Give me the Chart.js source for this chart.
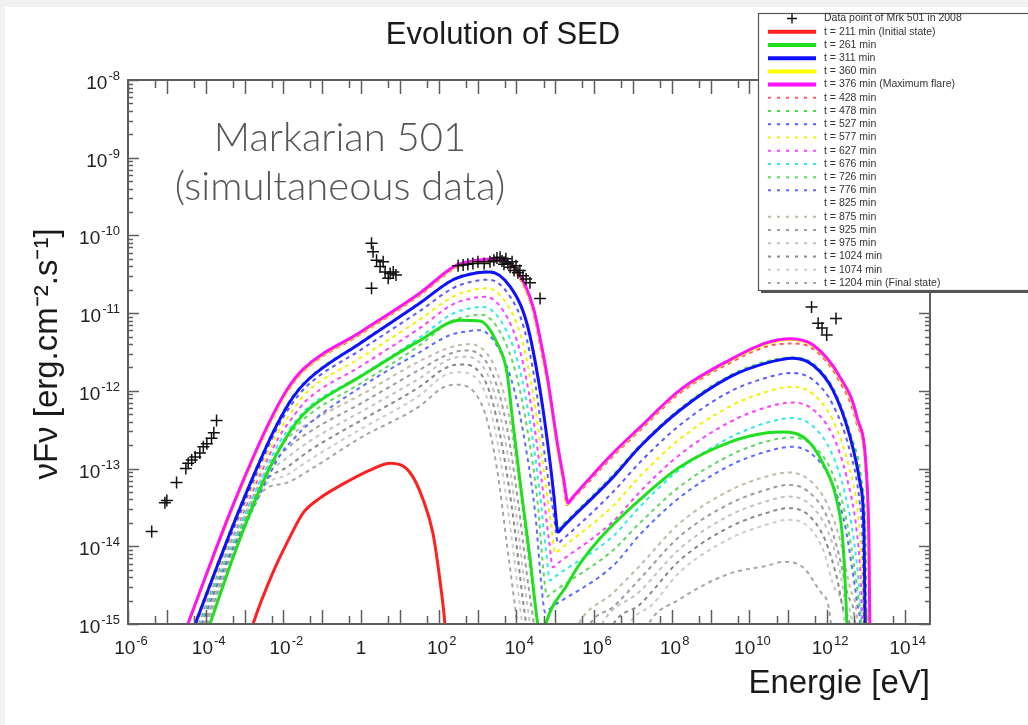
<!DOCTYPE html>
<html><head><meta charset="utf-8">
<script src="https://cdn.jsdelivr.net/npm/chart.js@4.4.1/dist/chart.umd.min.js"></script>
<style>html,body{margin:0;padding:0;background:#f1f1f3;}canvas{display:block;}</style>
</head><body>
<canvas id="c" width="1028" height="725"></canvas>
<script>
// All values are read off the picture, in log10 units:
// [ log10(E / eV), log10(νFν / erg cm^-2 s^-1) ]

const xTickDecades = [-6,-4,-2,0,2,4,6,8,10,12,14];
const xTickLabels  = [['10','-6'],['10','-4'],['10','-2'],['1',''],['10','2'],['10','4'],['10','6'],['10','8'],['10','10'],['10','12'],['10','14']];
const yTickDecades = [-15,-14,-13,-12,-11,-10,-9,-8];
const yTickLabels  = [['10','-15'],['10','-14'],['10','-13'],['10','-12'],['10','-11'],['10','-10'],['10','-9'],['10','-8']];

// Observed Mrk 501 data (2008)
const mrk501Points = [
  [-5.39,-13.81],[-5.05,-13.44],[-5.0,-13.41],[-4.75,-13.18],[-4.51,-13.0],[-4.45,-12.93],[-4.36,-12.89],
  [-4.27,-12.85],[-4.15,-12.8],[-4.06,-12.72],[-3.97,-12.68],[-3.85,-12.61],[-3.79,-12.54],[-3.72,-12.38],
  [0.27,-10.1],[0.31,-10.21],[0.4,-10.32],[0.49,-10.4],[0.57,-10.34],[0.62,-10.47],[0.7,-10.55],
  [0.75,-10.49],[0.83,-10.47],[0.9,-10.51],[0.27,-10.68],
  [2.5,-10.39],[2.63,-10.38],[2.75,-10.37],[2.88,-10.36],[3.01,-10.34],[3.17,-10.36],[3.32,-10.34],
  [3.42,-10.32],[3.5,-10.29],[3.58,-10.28],[3.63,-10.33],[3.68,-10.37],[3.73,-10.3],[3.78,-10.36],
  [3.84,-10.41],[3.89,-10.34],[3.94,-10.45],[3.99,-10.39],[4.04,-10.48],[4.09,-10.45],[4.17,-10.52],
  [4.25,-10.56],[4.35,-10.61],[4.61,-10.81],
  [11.6,-10.92],[11.77,-11.13],[11.87,-11.19],[11.99,-11.28],[12.23,-11.07]
];

const sed211 = [[-2.95,-15.3],[-2.78,-15],[-2.27,-14.34],[-1.8,-13.85],[-1.49,-13.57],[-1.06,-13.38],[-0.54,-13.22],[0.23,-13.02],[0.75,-12.93],[1.26,-13.05],[1.6,-13.4],[1.85,-13.83],[2.03,-14.43],[2.16,-15],[2.2,-15.3]];
const sed261 = [[-4.1,-15.3],[-3.89,-15],[-3.3,-14.15],[-2.8,-13.5],[-2.42,-13.06],[-1.95,-12.62],[-1.65,-12.4],[-1.31,-12.22],[-0.03,-11.82],[1.52,-11.35],[2.55,-11.09],[3.06,-11.1],[3.5,-11.38],[3.76,-11.77],[3.91,-12.41],[4.09,-13.15],[4.35,-14.15],[4.55,-15],[4.66,-15.25],[4.76,-15],[5.3,-14.5],[5.64,-14.22],[6.15,-13.9],[7.18,-13.4],[8.21,-12.98],[9.5,-12.66],[10.45,-12.54],[10.86,-12.53],[11.48,-12.63],[11.89,-12.93],[12.25,-13.41],[12.41,-13.96],[12.51,-15],[12.53,-15.3]];
const sed311 = [[-4.5,-15.3],[-4.27,-15],[-3.7,-14.25],[-3.15,-13.55],[-2.6,-12.9],[-2.2,-12.47],[-1.75,-12.08],[-1.37,-11.86],[0,-11.38],[1.52,-10.87],[2.37,-10.57],[3.0,-10.48],[3.32,-10.47],[3.84,-10.66],[4.27,-11.13],[4.61,-11.99],[4.87,-12.93],[4.97,-13.37],[5.07,-13.82],[5.18,-13.76],[6.49,-13.11],[7.18,-12.72],[8.21,-12.25],[9.5,-11.82],[10.45,-11.64],[11.12,-11.58],[11.64,-11.67],[12.15,-11.99],[12.59,-12.59],[12.85,-13.19],[12.95,-13.8],[12.98,-15],[13.0,-15.3]];
const sed360 = [[-4.69,-15.3],[-4.45,-15],[-3.89,-14.26],[-3.31,-13.51],[-2.79,-12.89],[-2.33,-12.39],[-1.89,-11.99],[-1.48,-11.73],[0,-11.25],[1.52,-10.75],[2.47,-10.39],[3.0,-10.33],[3.5,-10.31],[4.01,-10.47],[4.42,-10.93],[4.67,-11.51],[4.8,-11.87],[5.06,-12.73],[5.21,-13.15],[5.32,-13.45],[5.44,-13.38],[6.49,-12.81],[7.18,-12.48],[8.21,-12.0],[9.5,-11.61],[10.45,-11.39],[11.04,-11.34],[11.64,-11.42],[12.32,-11.83],[12.76,-12.35],[13.02,-13.2],[13.07,-14.01],[13.09,-15],[13.11,-15.3]];
const sed376 = [[-4.7,-15.3],[-4.46,-15],[-3.9,-14.25],[-3.32,-13.5],[-2.8,-12.88],[-2.34,-12.38],[-1.9,-11.98],[-1.49,-11.72],[0,-11.24],[1.52,-10.74],[2.47,-10.38],[3.0,-10.32],[3.5,-10.3],[4.02,-10.46],[4.43,-10.92],[4.68,-11.5],[4.81,-11.86],[5.07,-12.72],[5.22,-13.14],[5.33,-13.44],[5.45,-13.37],[6.49,-12.8],[7.18,-12.47],[8.21,-11.99],[9.5,-11.6],[10.45,-11.38],[11.04,-11.33],[11.64,-11.41],[12.33,-11.82],[12.77,-12.34],[13.03,-13.19],[13.08,-14],[13.1,-15],[13.12,-15.3]];
const sed428 = [[-4.69,-15.3],[-4.45,-15],[-3.89,-14.26],[-3.31,-13.52],[-2.79,-12.9],[-2.33,-12.41],[-1.89,-12.01],[-1.48,-11.75],[0,-11.27],[1.52,-10.77],[2.47,-10.41],[3.0,-10.35],[3.48,-10.33],[4.0,-10.49],[4.41,-10.95],[4.66,-11.55],[4.8,-11.9],[5.06,-12.76],[5.2,-13.17],[5.3,-13.47],[5.42,-13.41],[6.49,-12.84],[7.18,-12.51],[8.21,-12.03],[9.5,-11.64],[10.45,-11.43],[11.04,-11.39],[11.64,-11.46],[12.31,-11.87],[12.75,-12.4],[13.02,-13.24],[13.07,-14.05],[13.09,-15],[13.11,-15.3]];
const sed478 = [[-4.52,-15.3],[-4.29,-15],[-3.72,-14.25],[-3.17,-13.55],[-2.62,-12.9],[-2.21,-12.46],[-1.76,-12.07],[-1.38,-11.85],[0,-11.37],[1.52,-10.86],[2.37,-10.56],[3.0,-10.47],[3.3,-10.46],[3.82,-10.65],[4.26,-11.12],[4.6,-11.97],[4.86,-12.9],[4.97,-13.33],[5.08,-13.77],[5.19,-13.72],[6.49,-13.08],[7.18,-12.7],[8.21,-12.23],[9.5,-11.8],[10.45,-11.62],[11.12,-11.57],[11.64,-11.65],[12.17,-11.98],[12.62,-12.58],[12.9,-13.2],[12.99,-13.85],[13.02,-15],[13.04,-15.3]];
const sed527 = [[-4.45,-15.3],[-4.25,-15],[-3.65,-14.22],[-3.12,-13.58],[-2.6,-12.96],[-2.18,-12.5],[-1.75,-12.15],[-1.4,-11.94],[0,-11.47],[1.52,-10.97],[2.4,-10.67],[3.0,-10.58],[3.3,-10.57],[3.8,-10.76],[4.2,-11.2],[4.5,-11.95],[4.75,-12.9],[4.97,-13.62],[5.07,-13.96],[5.17,-13.92],[6.49,-13.3],[7.18,-12.92],[8.21,-12.44],[9.5,-12.01],[10.45,-11.83],[11.1,-11.77],[11.64,-11.86],[12.15,-12.18],[12.59,-12.78],[12.83,-13.4],[12.92,-14.0],[12.96,-15],[12.98,-15.3]];
const sed577 = [[-4.42,-15.3],[-4.22,-15],[-3.62,-14.22],[-3.1,-13.6],[-2.6,-13.02],[-2.15,-12.55],[-1.72,-12.22],[-1.4,-12.02],[0,-11.57],[1.52,-11.08],[2.4,-10.78],[3.0,-10.69],[3.25,-10.68],[3.75,-10.88],[4.15,-11.35],[4.45,-12.1],[4.7,-13.0],[4.9,-13.74],[5.0,-14.09],[5.1,-14.05],[6.49,-13.48],[7.18,-13.1],[8.21,-12.62],[9.5,-12.2],[10.45,-12.01],[11.1,-11.95],[11.64,-12.04],[12.15,-12.38],[12.55,-12.95],[12.8,-13.6],[12.89,-14.2],[12.94,-15],[12.96,-15.3]];
const sed627 = [[-4.4,-15.3],[-4.2,-15],[-3.6,-14.22],[-3.08,-13.62],[-2.58,-13.06],[-2.12,-12.6],[-1.7,-12.3],[-1.4,-12.12],[0,-11.68],[1.52,-11.19],[2.35,-10.89],[2.95,-10.8],[3.2,-10.79],[3.7,-11.0],[4.1,-11.5],[4.4,-12.25],[4.65,-13.15],[4.84,-13.92],[4.94,-14.27],[5.04,-14.23],[6.49,-13.68],[7.18,-13.3],[8.21,-12.82],[9.5,-12.4],[10.45,-12.21],[11.1,-12.15],[11.64,-12.24],[12.15,-12.58],[12.5,-13.1],[12.75,-13.75],[12.86,-14.35],[12.92,-15],[12.94,-15.3]];
const sed676 = [[-4.37,-15.3],[-4.17,-15],[-3.57,-14.22],[-3.05,-13.65],[-2.56,-13.12],[-2.1,-12.66],[-1.7,-12.4],[-1.4,-12.23],[0,-11.8],[1.52,-11.31],[2.35,-11.01],[2.9,-10.93],[3.15,-10.92],[3.65,-11.14],[4.05,-11.65],[4.35,-12.4],[4.6,-13.3],[4.77,-14.08],[4.87,-14.44],[4.97,-14.4],[6.49,-13.87],[7.18,-13.49],[8.21,-13.01],[9.5,-12.6],[10.45,-12.41],[11.1,-12.35],[11.6,-12.44],[12.1,-12.78],[12.45,-13.3],[12.7,-13.95],[12.82,-14.5],[12.9,-15],[12.92,-15.3]];
const sed726 = [[-4.34,-15.3],[-4.14,-15],[-3.55,-14.25],[-3.02,-13.68],[-2.54,-13.18],[-2.08,-12.72],[-1.7,-12.48],[-1.4,-12.33],[0,-11.9],[1.52,-11.41],[2.3,-11.11],[2.85,-11.03],[3.1,-11.02],[3.6,-11.26],[4.0,-11.8],[4.3,-12.55],[4.55,-13.45],[4.69,-14.28],[4.79,-14.65],[4.89,-14.61],[6.49,-14.05],[7.18,-13.7],[8.21,-13.23],[9.5,-12.83],[10.45,-12.65],[11.1,-12.6],[11.6,-12.69],[12.1,-13.02],[12.45,-13.55],[12.68,-14.2],[12.8,-14.65],[12.88,-15],[12.9,-15.3]];
const sed776 = [[-4.3,-15.3],[-4.1,-15],[-3.52,-14.27],[-3.0,-13.72],[-2.52,-13.24],[-2.05,-12.8],[-1.7,-12.6],[-1.4,-12.45],[0,-11.95],[1.52,-11.5],[2.3,-11.28],[2.8,-11.23],[3.05,-11.22],[3.55,-11.46],[3.95,-12.0],[4.25,-12.75],[4.5,-13.65],[4.64,-14.48],[4.74,-14.85],[4.84,-14.81],[6.49,-14.25],[7.18,-13.85],[8.21,-13.37],[9.5,-12.96],[10.45,-12.78],[11.1,-12.72],[11.6,-12.81],[12.1,-13.15],[12.45,-13.7],[12.65,-14.3],[12.78,-14.75],[12.85,-15],[12.87,-15.3]];
const sed825 = [[-4.28,-15.3],[-4.08,-15],[-3.5,-14.25],[-2.98,-13.62],[-2.5,-13.18],[-2.1,-12.85],[-1.7,-12.62],[-1.4,-12.5],[0,-12.0],[1.52,-11.57],[2.3,-11.36],[2.8,-11.32],[3.05,-11.34],[3.5,-11.6],[3.9,-12.15],[4.2,-12.95],[4.45,-13.9],[4.6,-14.6],[4.7,-15.05],[4.8,-15.02],[6.49,-14.42],[7.18,-14.02],[8.21,-13.53],[9.5,-13.12],[10.45,-12.95],[11.1,-12.9],[11.6,-12.98],[12.1,-13.32],[12.4,-13.85],[12.62,-14.45],[12.82,-15],[12.84,-15.3]];
const sed875 = [[-4.26,-15.3],[-4.06,-15],[-3.45,-14.2],[-2.95,-13.55],[-2.4,-12.98],[-1.9,-12.62],[-1.3,-12.4],[0,-12.05],[1.5,-11.62],[2.3,-11.44],[2.75,-11.4],[3.0,-11.42],[3.45,-11.7],[3.8,-12.3],[4.1,-13.3],[4.35,-14.3],[4.55,-15],[4.65,-15.4],[5.3,-15.4],[5.6,-15],[6.49,-14.6],[7.18,-14.25],[8.21,-13.7],[9.5,-13.28],[10.45,-13.1],[11.0,-13.05],[11.5,-13.13],[12.0,-13.45],[12.35,-13.95],[12.6,-14.55],[12.78,-15],[12.8,-15.3]];
const sed925 = [[-4.24,-15.3],[-4.04,-15],[-3.43,-14.2],[-2.93,-13.56],[-2.42,-13.04],[-1.9,-12.74],[-1.3,-12.52],[0,-12.16],[1.5,-11.73],[2.3,-11.52],[2.7,-11.48],[2.95,-11.5],[3.4,-11.8],[3.75,-12.45],[4.05,-13.45],[4.28,-14.4],[4.45,-15],[4.55,-15.4],[5.6,-15.4],[5.9,-15],[6.49,-14.78],[7.18,-14.42],[8.21,-13.87],[9.5,-13.45],[10.45,-13.27],[11.0,-13.21],[11.5,-13.29],[12.0,-13.62],[12.3,-14.1],[12.55,-14.65],[12.72,-15],[12.74,-15.3]];
const sed975 = [[-4.22,-15.3],[-4.02,-15],[-3.41,-14.2],[-2.91,-13.57],[-2.44,-13.1],[-1.9,-12.86],[-1.3,-12.64],[0,-12.27],[1.5,-11.84],[2.25,-11.6],[2.65,-11.56],[2.9,-11.58],[3.35,-11.9],[3.7,-12.6],[4.0,-13.6],[4.2,-14.45],[4.35,-15],[4.45,-15.4],[5.9,-15.4],[6.2,-15],[7.18,-14.58],[8.21,-14.03],[9.5,-13.6],[10.45,-13.42],[11.0,-13.36],[11.5,-13.44],[12.0,-13.78],[12.3,-14.25],[12.5,-14.75],[12.65,-15],[12.67,-15.3]];
const sed1024 = [[-4.2,-15.3],[-4.0,-15],[-3.39,-14.2],[-2.89,-13.58],[-2.46,-13.16],[-1.9,-12.98],[-1.3,-12.76],[0,-12.38],[1.5,-11.95],[2.2,-11.7],[2.6,-11.66],[2.85,-11.68],[3.3,-12.0],[3.65,-12.75],[3.95,-13.75],[4.12,-14.5],[4.25,-15],[4.35,-15.4],[6.2,-15.4],[6.5,-15],[7.18,-14.75],[8.21,-14.18],[9.5,-13.75],[10.45,-13.57],[11.0,-13.51],[11.5,-13.59],[11.95,-13.92],[12.25,-14.4],[12.45,-14.85],[12.58,-15],[12.6,-15.3]];
const sed1074 = [[-4.18,-15.3],[-3.98,-15],[-3.37,-14.2],[-2.87,-13.59],[-2.48,-13.22],[-1.9,-13.08],[-1.3,-12.88],[0,-12.49],[1.5,-12.06],[2.15,-11.8],[2.55,-11.76],[2.8,-11.78],[3.25,-12.1],[3.6,-12.9],[3.88,-13.9],[4.05,-14.6],[4.15,-15],[4.25,-15.4],[6.6,-15.4],[6.9,-15],[7.5,-14.75],[8.21,-14.33],[9.5,-13.9],[10.45,-13.72],[11.0,-13.66],[11.5,-13.74],[11.9,-14.05],[12.2,-14.55],[12.45,-15],[12.47,-15.3]];
const sed1204 = [[-4.15,-15.3],[-3.95,-15],[-3.35,-14.2],[-2.85,-13.6],[-2.5,-13.28],[-1.9,-13.18],[-1.2,-12.98],[0,-12.6],[1.5,-12.2],[2.1,-11.96],[2.45,-11.92],[2.75,-11.95],[3.2,-12.3],[3.5,-13.0],[3.75,-13.95],[3.92,-14.6],[4.02,-15],[4.1,-15.4],[7.1,-15.4],[7.4,-15],[8.21,-14.68],[9.5,-14.35],[10.45,-14.25],[10.9,-14.2],[11.4,-14.28],[11.85,-14.6],[12.1,-15],[12.12,-15.3]];

// ---------------------------------------------------------------
const toXY = pts => pts.map(p => ({x: Math.pow(10, p[0]), y: Math.pow(10, p[1])}));

function curve(label, pts, color, dashed, order) {
  return {
    label, data: toXY(pts), showLine: true,
    borderColor: color, backgroundColor: color,
    borderWidth: dashed ? 2 : 3,
    borderDash: dashed ? [4, 4] : [],
    pointRadius: 0, pointHoverRadius: 0,
    cubicInterpolationMode: 'monotone', fill: false, order,
    legendDash: dashed ? [3, 6] : [], legendWidth: dashed ? 2 : 4
  };
}

const datasets = [
  { label: 'Data point of Mrk 501 in 2008', data: toXY(mrk501Points), showLine: false,
    pointStyle: 'cross', pointRadius: 6, pointHoverRadius: 6, borderColor: '#111',
    backgroundColor: '#111', borderWidth: 1.5, order: 0, isObs: true },
  curve('t = 211 min (Initial state)', sed211, '#ff2020', false, 1.7),
  curve('t = 261 min', sed261, '#1fe01f', false, 1.6),
  curve('t = 311 min', sed311, '#1010ff', false, 1.5),
  curve('t = 360 min', sed360, '#ffff00', false, 2.5),
  curve('t = 376 min (Maximum flare)', sed376, '#ff10ff', false, 1),
  curve('t = 428 min', sed428, '#ff5a5a', true, 3),
  curve('t = 478 min', sed478, '#40e040', true, 3),
  curve('t = 527 min', sed527, '#5a5aff', true, 3),
  curve('t = 577 min', sed577, '#f2f200', true, 3),
  curve('t = 627 min', sed627, '#ff40ff', true, 3),
  curve('t = 676 min', sed676, '#30eaea', true, 3),
  curve('t = 726 min', sed726, '#60d860', true, 3),
  curve('t = 776 min', sed776, '#5a6cff', true, 3),
  curve('t = 825 min', sed825, '#ffffff', true, 4),
  curve('t = 875 min', sed875, '#c4b9a4', true, 3),
  curve('t = 925 min', sed925, '#9c9c9c', true, 3),
  curve('t = 975 min', sed975, '#c2c2c2', true, 3),
  curve('t = 1024 min', sed1024, '#888888', true, 3),
  curve('t = 1074 min', sed1074, '#cbcbcb', true, 3),
  curve('t = 1204 min (Final state)', sed1204, '#a6a6a6', true, 3)
];

const FONT = '"Liberation Sans", Arial, Helvetica, sans-serif';
Chart.defaults.font.family = FONT;

const bgPlugin = {
  id: 'bg',
  beforeDraw(chart) {
    const {ctx, width, height} = chart;
    ctx.save();
    ctx.fillStyle = '#f1f1f3'; ctx.fillRect(0, 0, width, height);
    ctx.fillStyle = '#ffffff'; ctx.fillRect(5, 7, width - 5, height - 7);
    ctx.restore();
  }
};

// draws "10" with a raised exponent, anchored by alignment
function powLabel(ctx, base, exp, x, y, align) {
  ctx.font = '19px ' + FONT;
  const wb = ctx.measureText(base).width;
  ctx.font = '13px ' + FONT;
  const we = exp ? ctx.measureText(exp).width + 1 : 0;
  const w = wb + we;
  let x0 = align === 'center' ? x - w / 2 : (align === 'right' ? x - w : x);
  ctx.textAlign = 'left'; ctx.textBaseline = 'alphabetic';
  ctx.font = '19px ' + FONT;
  ctx.fillText(base, x0, y);
  if (exp) { ctx.font = '13px ' + FONT; ctx.fillText(exp, x0 + wb + 1, y - 9); }
}

const framePlugin = {
  id: 'frame',
  afterDatasetsDraw(chart) {
    const {ctx, chartArea: a} = chart;
    const xs = chart.scales.x, ys = chart.scales.y;
    ctx.save();
    ctx.strokeStyle = '#5e5e5e';
    ctx.lineWidth = 1.5;
    const seg = (x1, y1, x2, y2) => { ctx.beginPath(); ctx.moveTo(x1, y1); ctx.lineTo(x2, y2); ctx.stroke(); };
    for (let n = -7; n <= 15; n++) {
      for (const k of [1, 5]) {
        const v = k * Math.pow(10, n);
        if (v < xs.min * 0.999 || v > xs.max) continue;
        const px = Math.round(xs.getPixelForValue(v)) + 0.5;
        const L = k === 1 ? 14 : 8;
        seg(px, a.bottom, px, a.bottom - L);
        seg(px, a.top, px, a.top + L);
      }
    }
    for (let n = -15; n <= -8; n++) {
      for (let k = 1; k <= 9; k++) {
        const v = k * Math.pow(10, n);
        if (v < ys.min * 0.999 || v > ys.max * 1.001) continue;
        const py = Math.round(ys.getPixelForValue(v)) + 0.5;
        const L = k === 1 ? 11 : 5;
        seg(a.left, py, a.left + L, py);
        seg(a.right, py, a.right - L, py);
      }
    }
    ctx.lineWidth = 2;
    ctx.strokeRect(a.left, a.top, a.right - a.left, a.bottom - a.top);

    // tick labels, placed through the scales
    ctx.fillStyle = '#222';
    xTickDecades.forEach((d, i) => {
      const px = xs.getPixelForValue(Math.pow(10, d));
      const [b, e] = xTickLabels[i];
      powLabel(ctx, b, e, px + (e ? 3 : 0), a.bottom + 30, 'center');
    });
    yTickDecades.forEach((d, i) => {
      const py = ys.getPixelForValue(Math.pow(10, d));
      const [b, e] = yTickLabels[i];
      powLabel(ctx, b, e, a.left - 8, py + 9, 'right');
    });
    ctx.restore();
  },
  afterDraw(chart) {
    const ctx = chart.ctx;
    ctx.save();
    ctx.fillStyle = '#1a1a1a';
    ctx.textAlign = 'center'; ctx.textBaseline = 'alphabetic';
    ctx.font = '31px ' + FONT;
    ctx.fillText('Evolution of SED', 503, 44);
    ctx.fillStyle = '#555555';
    ctx.font = '300 40px Lato, "Open Sans", sans-serif';
    ctx.fillText('Markarian 501', 340, 151);
    ctx.fillText('(simultaneous data)', 340, 200);
    ctx.fillStyle = '#1a1a1a';
    ctx.font = '33px ' + FONT;
    ctx.textAlign = 'right';
    ctx.fillText('Energie [eV]', 930, 693);
    ctx.save();
    ctx.translate(57, 354);
    ctx.rotate(-Math.PI / 2);
    ctx.textAlign = 'center';
    ctx.font = '33px ' + FONT;
    ctx.fillText('νFν [erg.cm⁻².s⁻¹]', 0, 0);
    ctx.restore();
    ctx.restore();
  }
};

const legendPlugin = {
  id: 'sedLegend',
  afterDraw(chart) {
    const ctx = chart.ctx;
    const x0 = 758, y0 = 13, x1 = 1034, y1 = 290;
    ctx.save();
    ctx.fillStyle = '#555'; ctx.fillRect(x0 + 3, y0 + 3, x1 - x0, y1 - y0);
    ctx.fillStyle = '#fff'; ctx.fillRect(x0, y0, x1 - x0, y1 - y0);
    ctx.strokeStyle = '#555'; ctx.lineWidth = 1.2;
    ctx.strokeRect(x0 + 0.5, y0 + 0.5, x1 - x0, y1 - y0);
    const rowH = 13.22, yStart = 18.5;
    chart.data.datasets.forEach((ds, i) => {
      const yy = yStart + i * rowH;
      if (ds.isObs) {
        ctx.strokeStyle = '#111'; ctx.lineWidth = 1.4; ctx.setLineDash([]);
        ctx.beginPath();
        ctx.moveTo(792 - 5, yy); ctx.lineTo(792 + 5, yy);
        ctx.moveTo(792, yy - 5); ctx.lineTo(792, yy + 5);
        ctx.stroke();
      } else {
        ctx.strokeStyle = ds.borderColor; ctx.lineWidth = ds.legendWidth;
        ctx.setLineDash(ds.legendDash);
        ctx.beginPath(); ctx.moveTo(768, yy); ctx.lineTo(816, yy); ctx.stroke();
      }
      ctx.setLineDash([]);
      ctx.fillStyle = '#333'; ctx.font = '10.5px ' + FONT;
      ctx.textAlign = 'left'; ctx.textBaseline = 'middle';
      ctx.fillText(ds.label, 824, yy);
    });
    ctx.restore();
  }
};

new Chart(document.getElementById('c'), {
  type: 'scatter',
  data: { datasets },
  options: {
    responsive: false, animation: false, devicePixelRatio: 1,
    layout: { padding: { left: 0, top: 80, right: 98, bottom: 0 } },
    plugins: { legend: { display: false }, title: { display: false }, tooltip: { enabled: false } },
    scales: {
      x: {
        type: 'logarithmic', position: 'bottom',
        min: 1e-6, max: Math.pow(10, 14.65),
        grid: { display: false, drawTicks: false }, border: { display: false },
        afterBuildTicks: s => { s.ticks = xTickDecades.map(d => ({ value: Math.pow(10, d) })); },
        afterFit: s => { s.height = 101; },
        ticks: { display: false, autoSkip: false, maxRotation: 0 }
      },
      y: {
        type: 'logarithmic', position: 'left',
        min: 1e-15, max: 1e-8,
        grid: { display: false, drawTicks: false }, border: { display: false },
        afterBuildTicks: s => { s.ticks = yTickDecades.map(d => ({ value: Math.pow(10, d) })); },
        afterFit: s => { s.width = 128; },
        ticks: { display: false, autoSkip: false }
      }
    }
  },
  plugins: [bgPlugin, framePlugin, legendPlugin]
});
</script>
</body></html>
